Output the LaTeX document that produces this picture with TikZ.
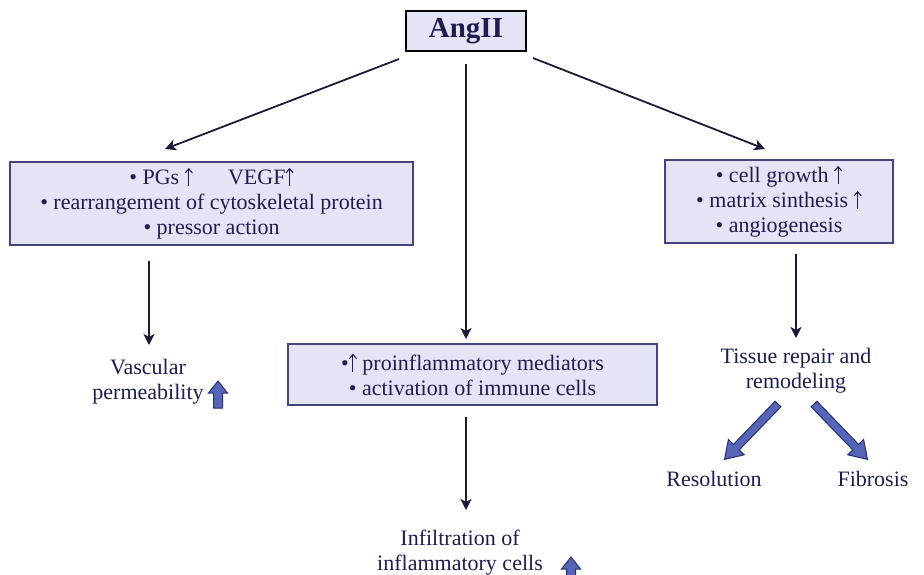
\documentclass[tikz,border=0pt]{standalone}
\usepackage{fontspec}
\setmainfont{Liberation Serif}
\newfontfamily\lib{Liberation Serif}
\usetikzlibrary{arrows.meta,calc}
\definecolor{boxfill}{HTML}{E4E4F7}
\definecolor{boxline}{HTML}{45457E}
\definecolor{txt}{HTML}{1E1E4E}
\definecolor{arr}{HTML}{1A1A38}
\definecolor{blk}{HTML}{5565B8}
\definecolor{blkline}{HTML}{2A2F70}
\tikzset{
  box/.style={draw=boxline, line width=1.3pt, fill=boxfill, text=txt, align=center,
    font=\lib\fontsize{22}{25}\selectfont, inner sep=0pt},
  lbl/.style={text=txt, align=center, font=\lib\fontsize{22}{25}\selectfont, inner sep=0pt},
  conn/.style={draw=arr, line width=1.8pt, -{Stealth[length=11pt,width=11pt,inset=3pt]}},
  blockarr/.style={draw=blkline, line width=1pt, fill=blk},
}
\newcommand{\uparr}{\tikz[baseline=0pt]\draw[txt, line width=1.1pt, -{Straight Barb[length=4pt,width=7pt]}] (0pt,-1pt) -- (0pt,17pt);}
\newcommand{\upblk}[1]{%
  \begin{scope}[shift={#1}]
  \draw[blockarr] (-4.5,0) -- (-4.5,-15) -- (-9.5,-15) -- (0,-27) -- (9.5,-15) -- (4.5,-15) -- (4.5,0) -- cycle;
  \end{scope}}
\begin{document}
\begin{tikzpicture}[x=1pt,y=-1pt]
\useasboundingbox[fill=white] (0,0) rectangle (924,574);
% top
\node[draw=black, line width=2.5pt, fill=boxfill, text=txt, font=\lib\bfseries\fontsize{29}{32}\selectfont,
  minimum width=120pt, minimum height=40pt, inner sep=0pt] (ang) at (466,31) {AngII};
% boxes
\node[box, minimum width=403pt, minimum height=83pt] (lb) at (211.5,203.5)
  {• PGs \uparr\hspace{1.6em}VEGF\uparr\\• rearrangement of cytoskeletal protein\\• pressor action};
\node[box, minimum width=228pt, minimum height=83pt] (rb) at (779,201.5)
  {• cell growth \uparr\\• matrix sinthesis \uparr\\• angiogenesis};
\node[box, minimum width=369pt, minimum height=61pt] (mb) at (472.5,374.5)
  {•\uparr\ proinflammatory mediators\\• activation of immune cells};
% labels
\node[lbl] (vp) at (148,382) {Vascular\\permeability};
\node[lbl] (inf) at (460,553) {Infiltration of\\inflammatory cells};
\node[lbl] (tr) at (796,371) {Tissue repair and\\remodeling};
\node[lbl] (res) at (714,479) {Resolution};
\node[lbl] (fib) at (873,479) {Fibrosis};
% small up arrows
\upblk{(218,408)}
\upblk{(571,584)}
% connectors
\coordinate (a1) at (399,59);
\coordinate (a2) at (533,58);
\draw[conn] (a1) -- (165,149);
\draw[conn] (ang.south) ++(0,12) -- (466,339);
\draw[conn] (a2) -- (765,149);
\draw[conn] (149,261) -- (149,345);
\draw[conn] (796,254) -- (796,338);
\draw[conn] (466,417) -- (466,510);
% block arrows
\begin{scope}[shift={(778,404)}, rotate=-134]
  \draw[blockarr] (0,-4) -- (60,-4) -- (60,-11) -- (77,0) -- (60,11) -- (60,4) -- (0,4) -- cycle;
\end{scope}
\begin{scope}[shift={(814,404)}, rotate=-46]
  \draw[blockarr] (0,-4) -- (60,-4) -- (60,-11) -- (77,0) -- (60,11) -- (60,4) -- (0,4) -- cycle;
\end{scope}
\end{tikzpicture}
\end{document}
